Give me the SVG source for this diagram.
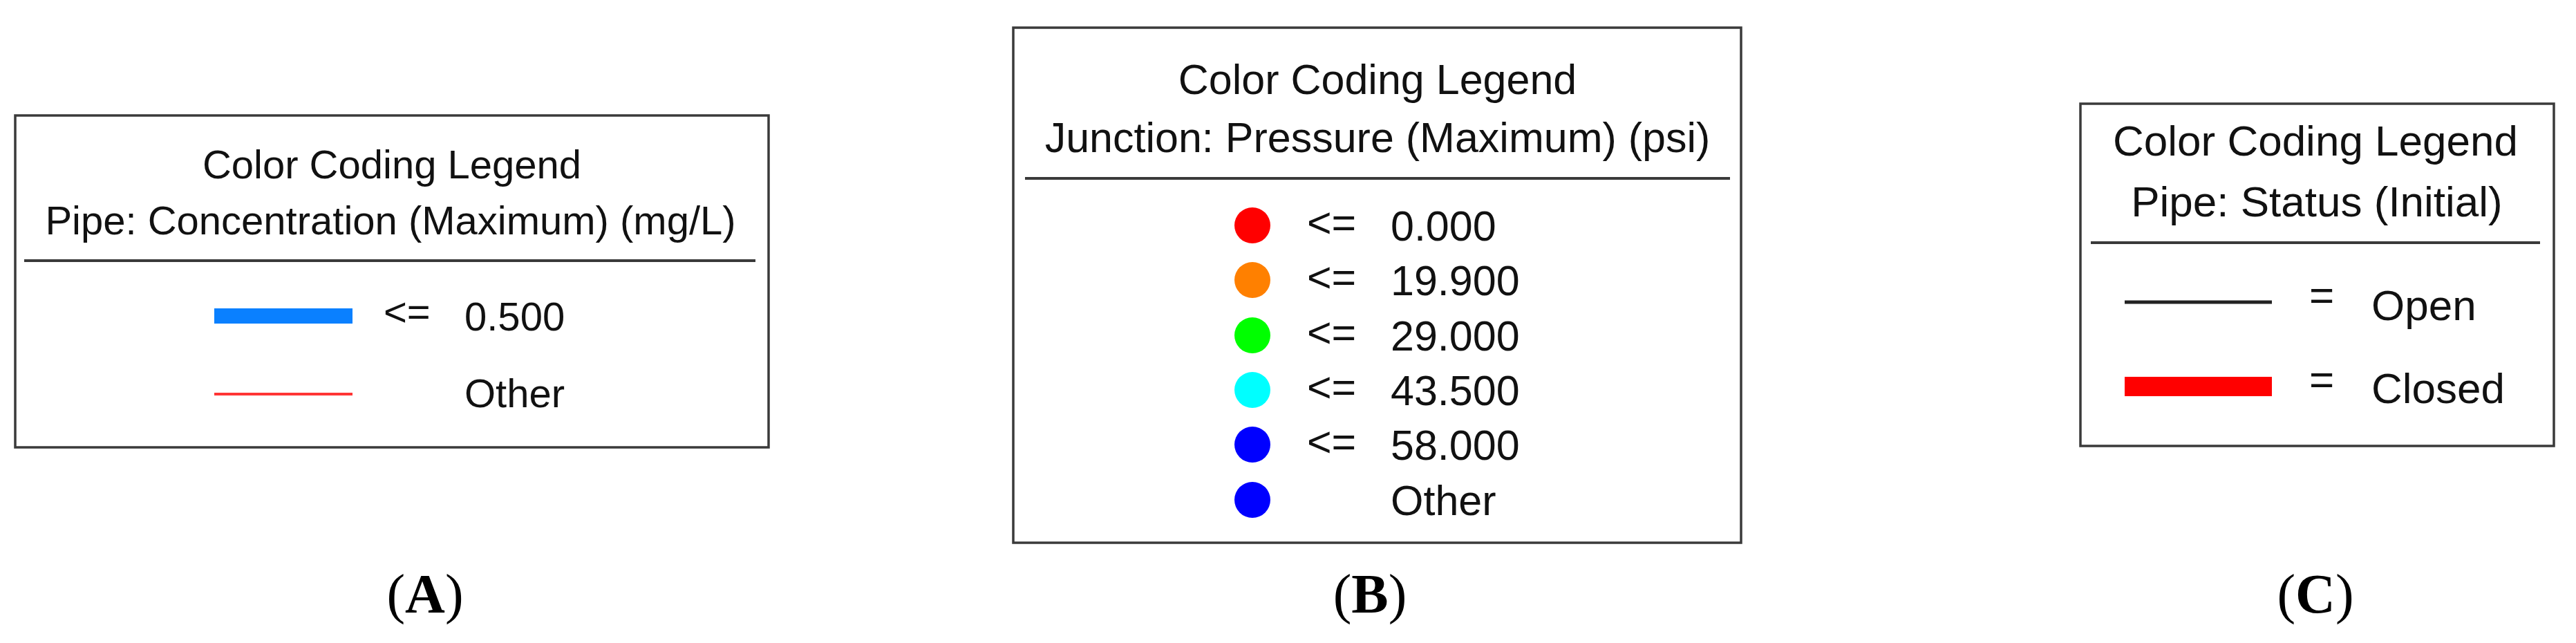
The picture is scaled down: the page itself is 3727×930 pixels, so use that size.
<svg xmlns="http://www.w3.org/2000/svg" width="3727" height="930" viewBox="0 0 3727 930">
<style>
.box{fill:#fff;stroke:#3a3a3a;stroke-width:3.5}
.sep{stroke:#3a3a3a;stroke-width:4}
.t{font-family:"Liberation Sans",Arial,sans-serif;fill:#111}
.c{text-anchor:middle}
.lab{font-family:"Liberation Serif","Times New Roman",serif;font-size:80px;fill:#000;text-anchor:middle}
</style>
<rect width="3727" height="930" fill="#fff"/>
<g id="legendA">
<rect class="box" x="22" y="167" width="1090" height="480"/>
<text class="t c" x="567" y="258" font-size="58">Color Coding Legend</text>
<text class="t c" x="565" y="339" font-size="58">Pipe: Concentration (Maximum) (mg/L)</text>
<line class="sep" x1="35" y1="377" x2="1093" y2="377"/>
<rect x="310" y="446" width="200" height="22" fill="#0a80ff"/>
<text class="t" x="555" y="471" font-size="58">&lt;=</text>
<text class="t" x="672" y="478" font-size="58">0.500</text>
<line x1="310" y1="570" x2="510" y2="570" stroke="#ff3535" stroke-width="4"/>
<text class="t" x="672" y="589" font-size="58">Other</text>
</g>
<g id="legendB">
<rect class="box" x="1466" y="40" width="1053" height="745"/>
<text class="t c" x="1993" y="136" font-size="61">Color Coding Legend</text>
<text class="t c" x="1993" y="220" font-size="61">Junction: Pressure (Maximum) (psi)</text>
<line class="sep" x1="1483" y1="258" x2="2503" y2="258"/>
<circle cx="1812" cy="326" r="26" fill="#ff0000"/>
<text class="t" x="1891" y="343" font-size="61">&lt;=</text>
<text class="t" x="2012" y="348" font-size="61">0.000</text>
<circle cx="1812" cy="405" r="26" fill="#ff8000"/>
<text class="t" x="1891" y="422" font-size="61">&lt;=</text>
<text class="t" x="2012" y="427" font-size="61">19.900</text>
<circle cx="1812" cy="485" r="26" fill="#00ff00"/>
<text class="t" x="1891" y="502" font-size="61">&lt;=</text>
<text class="t" x="2012" y="507" font-size="61">29.000</text>
<circle cx="1812" cy="564" r="26" fill="#00ffff"/>
<text class="t" x="1891" y="581" font-size="61">&lt;=</text>
<text class="t" x="2012" y="586" font-size="61">43.500</text>
<circle cx="1812" cy="643" r="26" fill="#0000ff"/>
<text class="t" x="1891" y="660" font-size="61">&lt;=</text>
<text class="t" x="2012" y="665" font-size="61">58.000</text>
<circle cx="1812" cy="723" r="26" fill="#0000ff"/>
<text class="t" x="2012" y="745" font-size="61">Other</text>
</g>
<g id="legendC">
<rect class="box" x="3010" y="150" width="685" height="495"/>
<text class="t c" x="3350" y="225" font-size="62">Color Coding Legend</text>
<text class="t c" x="3352" y="313" font-size="62">Pipe: Status (Initial)</text>
<line class="sep" x1="3025" y1="351" x2="3675" y2="351"/>
<line x1="3074" y1="437" x2="3287" y2="437" stroke="#222" stroke-width="5"/>
<text class="t" x="3341" y="448" font-size="62">=</text>
<text class="t" x="3431" y="463" font-size="62">Open</text>
<rect x="3074" y="545" width="213" height="28" fill="#ff0000"/>
<text class="t" x="3341" y="570" font-size="62">=</text>
<text class="t" x="3431" y="583" font-size="62">Closed</text>
</g>
<g id="labels">
<text class="lab" x="615" y="886">(<tspan font-weight="bold">A</tspan>)</text>
<text class="lab" x="1982" y="886">(<tspan font-weight="bold">B</tspan>)</text>
<text class="lab" x="3350" y="886">(<tspan font-weight="bold">C</tspan>)</text>
</g>
</svg>
